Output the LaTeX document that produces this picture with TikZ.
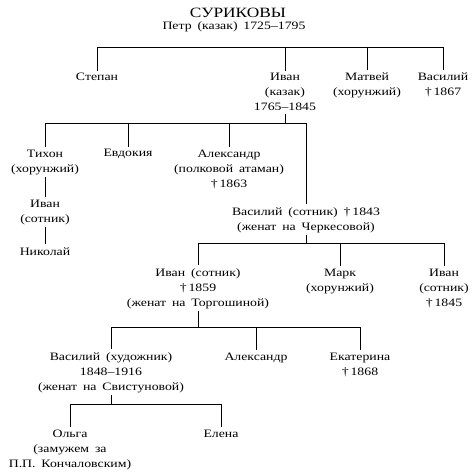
\documentclass[tikz,border=0pt]{standalone}
\usepackage{fontspec}
\setmainfont{Liberation Serif}[FakeStretch=1.22, WordSpace=1.7]
\begin{document}
\begin{tikzpicture}[x=1pt,y=-1pt,
  every node/.style={font=\fontsize{11.3}{15}\selectfont, inner xsep=0pt, inner ysep=3pt, align=center, anchor=base},
  conn/.style={line width=0.8pt, line cap=rect}]
\useasboundingbox (0,0) rectangle (476,473);
% (multi-line nodes are placed by the baseline of their last line)
\node[font=\fontsize{14.2}{16}\selectfont] (title) at (238,18) {СУРИКОВЫ};
\node (petr) at (234,30) {Петр (казак) 1725–1795};
% row 1
\node (stepan) at (97,81) {Степан};
\node (ivan1) at (285,111) {Иван\\(казак)\\1765–1845};
\node (matvey) at (367,96) {Матвей\\(хорунжий)};
\node (vasily1) at (443,96) {Василий\\†\,1867};
% row 2
\node (tikhon) at (45,172) {Тихон\\(хорунжий)};
\node (evdokia) at (128,157) {Евдокия};
\node (alex1) at (229,187) {Александр\\(полковой атаман)\\†\,1863};
\node (ivan2) at (45,222) {Иван\\(сотник)};
\node (nikolay) at (45,255) {Николай};
\node (vasily2) at (306,230) {Василий (сотник) †\,1843\\(женат на Черкесовой)};
% row 3
\node (ivan3) at (198,306) {Иван (сотник)\\†\,1859\\(женат на Торгошиной)};
\node (mark) at (340,291) {Марк\\(хорунжий)};
\node (ivan4) at (444,306) {Иван\\(сотник)\\†\,1845};
% row 4
\node (vasily3) at (111,390) {Василий (художник)\\1848–1916\\(женат на Свистуновой)};
\node (alex2) at (256,360) {Александр};
\node (ekat) at (360,375) {Екатерина\\†\,1868};
% row 5
\node (olga) at (70,467) {Ольга\\(замужем за\\П.П. Кончаловским)};
\node (elena) at (221,437) {Елена};
% connectors
\coordinate (b1l) at (97,47); \coordinate (b1r) at (443,47);
\draw[conn] (b1l) -- (b1r);
\foreach \n in {stepan,ivan1,matvey,vasily1} \draw[conn] (\n.north |- b1l) -- (\n.north);
\coordinate (b2l) at (45,123); \coordinate (b2r) at (306,123);
\draw[conn] (ivan1.south) -- (ivan1.south |- b2l);
\draw[conn] (b2l) -- (b2r);
\foreach \n in {tikhon,evdokia,alex1,vasily2} \draw[conn] (\n.north |- b2l) -- (\n.north);
\draw[conn] (tikhon.south) -- (ivan2.north);
\draw[conn] (ivan2.south) -- (nikolay.north);
\coordinate (b3l) at (198,243); \coordinate (b3r) at (444,243);
\draw[conn] (vasily2.south) -- (vasily2.south |- b3l);
\draw[conn] (b3l) -- (b3r);
\foreach \n in {ivan3,mark,ivan4} \draw[conn] (\n.north |- b3l) -- (\n.north);
\coordinate (b4l) at (111,327); \coordinate (b4r) at (360,327);
\draw[conn] (ivan3.south) -- (ivan3.south |- b4l);
\draw[conn] (b4l) -- (b4r);
\foreach \n in {vasily3,alex2,ekat} \draw[conn] (\n.north |- b4l) -- (\n.north);
\coordinate (b5l) at (70,404); \coordinate (b5r) at (221,404);
\draw[conn] (vasily3.south) -- (vasily3.south |- b5l);
\draw[conn] (b5l) -- (b5r);
\foreach \n in {olga,elena} \draw[conn] (\n.north |- b5l) -- (\n.north);
\end{tikzpicture}
\end{document}
